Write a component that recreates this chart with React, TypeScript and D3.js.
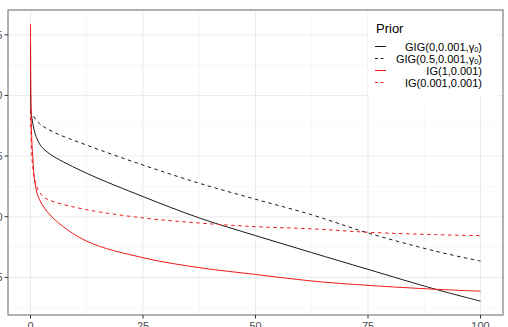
import React from "react";
import * as d3 from "d3";

const W = 508;
const H = 327;

// x positions and values
const gig0X = [0, 0.1, 0.27, 1, 1.5, 2, 3, 5, 12.5, 25, 37.5, 50, 62.5, 75, 90, 100];
const gig0Y = [12.13, 9.39, 9.11, 8.44, 8.2, 8.0, 7.78, 7.5, 6.79, 5.83, 4.95, 4.22, 3.52, 2.83, 2.01, 1.52];

const gig05X = [0, 0.3, 2, 5, 12.5, 25, 37.5, 50, 62.5, 75, 90, 100];
const gig05Y = [9.39, 9.25, 8.84, 8.5, 7.95, 7.13, 6.38, 5.72, 5.08, 4.33, 3.58, 3.17];

const ig1X = [0, 0.1, 0.25, 0.5, 1, 2, 5, 12.5, 25, 37.5, 50, 62.5, 75, 90, 100];
const ig1Y = [12.95, 9.8, 8.36, 7.47, 6.38, 5.7, 4.95, 3.99, 3.31, 2.9, 2.62, 2.35, 2.17, 2.01, 1.93];

const igSmallX = [0, 0.5, 1.4, 2.8, 5, 12.5, 25, 37.5, 50, 62.5, 75, 90, 100];
const igSmallY = [9.39, 7.06, 6.24, 5.83, 5.63, 5.29, 4.95, 4.74, 4.59, 4.5, 4.36, 4.26, 4.22];

const xTicks = [0, 25, 50, 75, 100];
const xMinor = [12.5, 37.5, 62.5, 87.5];
const yTicks = [2.5, 5, 7.5, 10, 12.5];
const yMinor = [1.25, 3.75, 6.25, 8.75, 11.25];

const RED = "#F01818";

const series = [
  { name: "GIG(0,0.001,", sub: "0", xs: gig0X, ys: gig0Y, color: "#1a1a1a", dash: "" },
  { name: "GIG(0.5,0.001,", sub: "0", xs: gig05X, ys: gig05Y, color: "#1a1a1a", dash: "3.5,3.5" },
  { name: "IG(1,0.001)", sub: "", xs: ig1X, ys: ig1Y, color: RED, dash: "" },
  { name: "IG(0.001,0.001)", sub: "", xs: igSmallX, ys: igSmallY, color: RED, dash: "3.5,3.5" },
];

export default function App() {
  const left = 8, right = 503, top = 10, bottom = 315;
  const x = d3.scaleLinear().domain([-5, 105]).range([left, right]);
  const all = series.flatMap((s) => s.ys);
  const [mn, mx] = d3.extent(all) as [number, number];
  const r = mx - mn;
  const y = d3.scaleLinear().domain([mn - 0.05 * r, mx + 0.05 * r]).range([bottom, top]);
  const line = d3
    .line<[number, number]>()
    .x((d) => x(d[0]))
    .y((d) => y(d[1]))
    .curve(d3.curveCatmullRom.alpha(0.5));

  const font = "'Liberation Sans', Arial, sans-serif";
  const legX = 368, legY = 10;
  const rowY = [46.5, 58.5, 70.5, 82.5];

  return (
    <div style={{ position: "fixed", left: 0, top: 0, width: W, height: H, background: "#fff" }}>
      <svg width={W} height={H} style={{ display: "block", fontFamily: font }}>
        <rect x={0} y={0} width={W} height={H} fill="#fff" />
        <g>
          {xMinor.map((t) => (
            <line key={"xm" + t} x1={x(t)} x2={x(t)} y1={top} y2={bottom} stroke="#f2f2f2" strokeWidth={0.6} />
          ))}
          {yMinor.map((t) => (
            <line key={"ym" + t} x1={left} x2={right} y1={y(t)} y2={y(t)} stroke="#f2f2f2" strokeWidth={0.6} />
          ))}
          {xTicks.map((t) => (
            <line key={"xg" + t} x1={x(t)} x2={x(t)} y1={top} y2={bottom} stroke="#ebebeb" strokeWidth={1.1} />
          ))}
          {yTicks.map((t) => (
            <line key={"yg" + t} x1={left} x2={right} y1={y(t)} y2={y(t)} stroke="#ebebeb" strokeWidth={1.1} />
          ))}
        </g>
        <g fill="none">
          {series.map((s, i) => (
            <path
              key={i}
              d={line(s.xs.map((v, j) => [v, s.ys[j]] as [number, number])) || ""}
              stroke={s.color}
              strokeWidth={1}
              strokeDasharray={s.dash || undefined}
            />
          ))}
        </g>
        {/* legend */}
        <rect x={legX} y={legY + 0.5} width={129} height={87} fill="#fff" />
        <text x={376} y={33} fontSize={13} fill="#000">Prior</text>
        {series.map((s, i) => (
          <g key={"lg" + i}>
            <line
              x1={375}
              x2={386}
              y1={rowY[i]}
              y2={rowY[i]}
              stroke={s.color}
              strokeWidth={1}
              strokeDasharray={s.dash ? "3,2.5" : undefined}
            />
            <text x={482} y={rowY[i] + 4} fontSize={11} fill="#000" textAnchor="end">
              {s.name}
              {s.sub ? (
                <>
                  <tspan>γ</tspan>
                  <tspan fontSize={7.5} dy={1.5}>{s.sub}</tspan>
                  <tspan dy={-1.5}>)</tspan>
                </>
              ) : null}
            </text>
          </g>
        ))}
        {/* panel border */}
        <rect x={left} y={top} width={right - left} height={bottom - top} fill="none" stroke="#666" strokeWidth={1} />
        {/* axes ticks */}
        {xTicks.map((t) => (
          <g key={"xt" + t}>
            <line x1={x(t)} x2={x(t)} y1={bottom} y2={bottom + 3.5} stroke="#333" strokeWidth={1} />
            <text x={x(t)} y={bottom + 15} fontSize={11} fill="#4d4d4d" textAnchor="middle">
              {t}
            </text>
          </g>
        ))}
        {yTicks.map((t) => (
          <g key={"yt" + t}>
            <line x1={left - 3.5} x2={left} y1={y(t)} y2={y(t)} stroke="#333" strokeWidth={1} />
            <text x={2.5} y={y(t) + 4} fontSize={11} fill="#4d4d4d" textAnchor="end">
              {d3.format(".1f")(t)}
            </text>
          </g>
        ))}
      </svg>
    </div>
  );
}
